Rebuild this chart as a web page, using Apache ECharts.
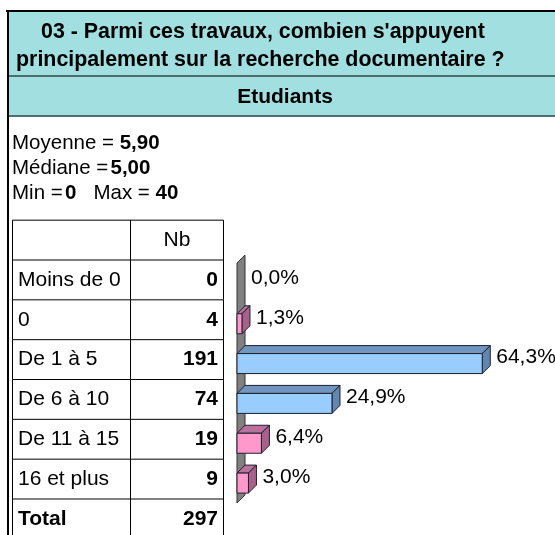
<!DOCTYPE html>
<html>
<head>
<meta charset="utf-8">
<script src="https://cdn.jsdelivr.net/npm/echarts@6/dist/echarts.min.js"></script>
<style>
html,body{margin:0;padding:0;background:#fff;}
#c{width:555px;height:535px;}
</style>
</head>
<body>
<div id="c"></div>
<script>
// ---- data ----
const titleLine1 = "03 - Parmi ces travaux, combien s'appuyent";
const titleLine2 = "principalement sur la recherche documentaire ?";
const groupName = "Etudiants";
const meanValue = "5,90";
const medianValue = "5,00";
const minValue = "0";
const maxValue = "40";
const categories = ['Moins de 0', '0', 'De 1 à 5', 'De 6 à 10', 'De 11 à 15', '16 et plus'];
const counts = [0, 4, 191, 74, 19, 9];
const percents = [0.0, 1.3, 64.3, 24.9, 6.4, 3.0];
const totalCount = 297;
const countHeader = "Nb";
const totalLabel = "Total";

// ---- layout / style ----
const FONT = "'Liberation Sans', Arial, sans-serif";
const TEAL = '#a2dfe0';
const SEP = '#4f6d6d';
const TBL_L = 12.5, TBL_M = 130.5, TBL_R = 223.5;
const DEPTH = 8;
const TS = 21; // table / label font size

function fmtPct(v) { return v.toFixed(1).replace('.', ',') + '%'; }

const chart = echarts.init(document.getElementById('c'), null, {renderer: 'canvas'});

function txt(text, x, y, size, bold, align, extra) {
  return Object.assign({
    type: 'text',
    style: {
      text: text, x: x, y: y,
      font: (bold ? 'bold ' : '') + size + 'px ' + FONT,
      fill: '#000',
      textAlign: align || 'left', align: align || 'left',
      textVerticalAlign: 'middle', verticalAlign: 'middle'
    }
  }, extra || {});
}

const option = {
  animation: false,
  grid: {left: 237, top: 260, width: 267, height: 239},
  xAxis: {type: 'value', min: 0, max: 70, show: false},
  yAxis: {type: 'category', inverse: true, data: categories, show: false},
  graphic: [
    // header box
    {type: 'rect', shape: {x: 7, y: 11, width: 560, height: 105}, style: {fill: TEAL}, z: 0},
    {type: 'line', shape: {x1: 6, y1: 11, x2: 560, y2: 11}, style: {stroke: '#000', lineWidth: 2}},
    {type: 'line', shape: {x1: 8, y1: 10, x2: 8, y2: 540}, style: {stroke: '#000', lineWidth: 2}},
    {type: 'line', shape: {x1: 9, y1: 76, x2: 560, y2: 76}, style: {stroke: SEP, lineWidth: 2}},
    {type: 'line', shape: {x1: 9, y1: 116, x2: 560, y2: 116}, style: {stroke: SEP, lineWidth: 2}},
    txt(titleLine1, 41, 32, 21.4, true, 'left'),
    txt(titleLine2, 16, 60, 21.4, true, 'left'),
    txt(groupName, 285, 97, 21, true, 'center'),
    {
      type: 'text',
      style: {
        text: '{r|Moyenne = }{b|' + meanValue + '}\n{r|Médiane =}{s| }{b|' + medianValue + '}\n{r|Min =}{s| }{b|' + minValue + '}{r|   Max = }{b|' + maxValue + '}',
        x: 12, y: 131,
        lineHeight: 25,
        rich: {
          r: {font: '20.5px ' + FONT, fill: '#000', lineHeight: 25},
          s: {font: '8px ' + FONT, fill: '#000', lineHeight: 25},
          b: {font: 'bold 20.5px ' + FONT, fill: '#000', lineHeight: 25}
        },
        fill: '#000'
      }
    }
  ],
  series: [
    {
      // 3D wall along the category axis
      type: 'custom',
      z: 1,
      data: [[0, 0]],
      encode: {x: 0, y: 1},
      renderItem: function (params, api) {
        const band = api.size([0, 1])[1];
        const first = api.coord([0, 0]);
        const last = api.coord([0, categories.length - 1]);
        const x = first[0];
        const yTop = first[1] - band / 2 + 3;
        const yBot = last[1] + band / 2 + 4;
        return {
          type: 'polygon',
          shape: {points: [[x, yTop], [x + DEPTH, yTop - DEPTH], [x + DEPTH, yBot - DEPTH], [x, yBot]]},
          style: {fill: '#808080', stroke: '#333', lineWidth: 1}
        };
      }
    },
    {
      // table
      type: 'custom',
      z: 1,
      clip: false,
      data: categories.map(function (c, i) { return [0, i, counts[i]]; }),
      encode: {x: 0, y: 1},
      renderItem: function (params, api) {
        const idx = api.value(1);
        const band = api.size([0, 1])[1];
        const c = api.coord([0, idx])[1];
        const top = c - band / 2, bot = c + band / 2;
        const lineStyle = {stroke: '#000', lineWidth: 1};
        const children = [
          {type: 'line', shape: {x1: TBL_L, y1: top, x2: TBL_R, y2: top}, style: lineStyle},
          {type: 'line', shape: {x1: TBL_L, y1: top, x2: TBL_L, y2: bot}, style: lineStyle},
          {type: 'line', shape: {x1: TBL_M, y1: top, x2: TBL_M, y2: bot}, style: lineStyle},
          {type: 'line', shape: {x1: TBL_R, y1: top, x2: TBL_R, y2: bot}, style: lineStyle},
          txt(categories[idx], 18, c, TS, false, 'left'),
          txt(String(api.value(2)), 218, c, TS, true, 'right')
        ];
        if (idx === 0) {
          const ht = top - band;
          children.push(
            {type: 'line', shape: {x1: TBL_L, y1: ht, x2: TBL_R, y2: ht}, style: lineStyle},
            {type: 'line', shape: {x1: TBL_L, y1: ht, x2: TBL_L, y2: top}, style: lineStyle},
            {type: 'line', shape: {x1: TBL_M, y1: ht, x2: TBL_M, y2: top}, style: lineStyle},
            {type: 'line', shape: {x1: TBL_R, y1: ht, x2: TBL_R, y2: top}, style: lineStyle},
            txt(countHeader, (TBL_M + TBL_R) / 2, top - band / 2, TS, false, 'center')
          );
        }
        if (idx === categories.length - 1) {
          const tb = bot + band;
          children.push(
            {type: 'line', shape: {x1: TBL_L, y1: bot, x2: TBL_R, y2: bot}, style: lineStyle},
            {type: 'line', shape: {x1: TBL_L, y1: bot, x2: TBL_L, y2: tb}, style: lineStyle},
            {type: 'line', shape: {x1: TBL_M, y1: bot, x2: TBL_M, y2: tb}, style: lineStyle},
            {type: 'line', shape: {x1: TBL_R, y1: bot, x2: TBL_R, y2: tb}, style: lineStyle},
            txt(totalLabel, 18, bot + band / 2, TS, true, 'left'),
            txt(String(totalCount), 218, bot + band / 2, TS, true, 'right')
          );
        }
        return {type: 'group', children: children};
      }
    },
    {
      // 3D bars
      type: 'custom',
      z: 2,
      clip: false,
      data: percents.map(function (v, i) { return [v, i]; }),
      encode: {x: 0, y: 1},
      renderItem: function (params, api) {
        const val = api.value(0);
        const idx = api.value(1);
        const p0 = api.coord([0, idx]);
        const p1 = api.coord([val, idx]);
        const c = p0[1];
        const x0 = p0[0], x1 = p1[0];
        const d = DEPTH;
        const ft = c - 6, fb = c + 14;
        const big = val >= 20;
        const front = big ? '#99ccff' : '#ff99cc';
        const topC = big ? '#7096c0' : '#b8729c';
        const sideC = big ? '#6186b0' : '#a6628a';
        const stroke = '#1f1f2f';
        const children = [];
        if (val > 0) {
          children.push(
            {type: 'polygon', shape: {points: [[x0, ft], [x0 + d, ft - d], [x1 + d, ft - d], [x1, ft]]}, style: {fill: topC, stroke: stroke, lineWidth: 1}},
            {type: 'polygon', shape: {points: [[x1, ft], [x1 + d, ft - d], [x1 + d, fb - d], [x1, fb]]}, style: {fill: sideC, stroke: stroke, lineWidth: 1}},
            {type: 'rect', shape: {x: x0, y: ft, width: x1 - x0, height: fb - ft}, style: {fill: front, stroke: stroke, lineWidth: 1}}
          );
        }
        children.push(txt(fmtPct(val), x1 + d + 6, c - 2, TS, false, 'left'));
        return {type: 'group', children: children};
      }
    }
  ]
};
chart.setOption(option);
</script>
</body>
</html>
